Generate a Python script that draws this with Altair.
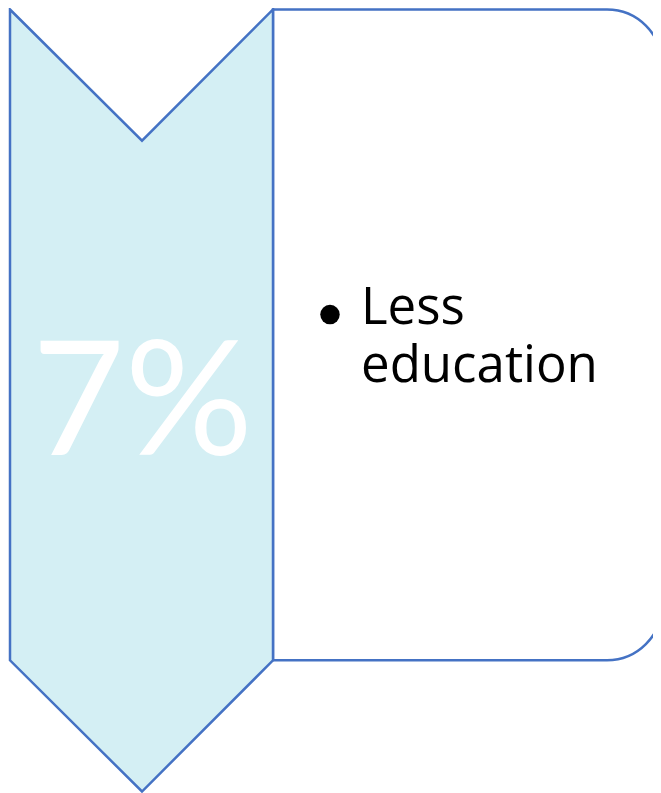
import altair as alt
import pandas as pd

# ---- diagram geometry (in reference-image pixel units) ----
chevron_x = [10, 142, 273]
chevron_top = [5, 137, 5]
chevron_bottom = [660, 792, 660]

box_left = [273]
box_right = [662]
box_top = [5]
box_bottom = [660]

# ---- text content ----
value_label = ["7%"]
bullet_text_lines = ["Less\neducation"]
bullet_text_pos = [(361, 322)]
bullet_dot = [(330, 312)]
value_pos = [(142.5, 453)]

STROKE = "#4472C4"
FILL = "#D4EFF4"

H = 785
xs = alt.Scale(domain=[8, 653], nice=False, zero=False)
ys = alt.Scale(domain=[3.5, 793.5], nice=False, zero=False, reverse=True)

chev_df = pd.DataFrame({"x": chevron_x, "top": chevron_top, "bottom": chevron_bottom})
box_df = pd.DataFrame({"x": box_left, "x2": box_right, "y": box_top, "y2": box_bottom})
val_df = pd.DataFrame({"label": value_label, "x": [p[0] for p in value_pos], "y": [p[1] for p in value_pos]})
txt_df = pd.DataFrame({"label": bullet_text_lines,
                       "x": [p[0] for p in bullet_text_pos], "y": [p[1] for p in bullet_text_pos]})
dot_df = pd.DataFrame({"x": [p[0] for p in bullet_dot], "y": [p[1] for p in bullet_dot]})

box = alt.Chart(box_df).mark_rect(
    fill="white", stroke=STROKE, strokeWidth=2.5,
    cornerRadiusTopRight=55, cornerRadiusBottomRight=55, clip=True
).encode(
    x=alt.X("x:Q", scale=xs, axis=None),
    x2="x2:Q",
    y=alt.Y("y:Q", scale=ys, axis=None),
    y2="y2:Q",
)

chevron = alt.Chart(chev_df).mark_area(
    fill=FILL, stroke=STROKE, strokeWidth=2.5, strokeJoin="miter",
    interpolate="linear", opacity=1, fillOpacity=1
).encode(
    x=alt.X("x:Q", scale=xs, axis=None),
    y=alt.Y("top:Q", scale=ys, axis=None),
    y2="bottom:Q",
)

value_text = alt.Chart(val_df).mark_text(
    font="Lato", fontWeight=400, fontSize=160, color="white",
    align="center", baseline="alphabetic"
).encode(
    x=alt.X("x:Q", scale=xs, axis=None),
    y=alt.Y("y:Q", scale=ys, axis=None),
    text="label:N",
)

bullet_text = alt.Chart(txt_df).mark_text(
    font="Open Sans", fontSize=51, color="black",
    align="left", baseline="alphabetic", lineBreak="\n", lineHeight=58
).encode(
    x=alt.X("x:Q", scale=xs, axis=None),
    y=alt.Y("y:Q", scale=ys, axis=None),
    text="label:N",
)

dot = alt.Chart(dot_df).mark_point(
    shape="circle", filled=True, color="black", size=380, opacity=1
).encode(
    x=alt.X("x:Q", scale=xs, axis=None),
    y=alt.Y("y:Q", scale=ys, axis=None),
)

chart = alt.layer(box, chevron, value_text, bullet_text, dot).properties(
    width=645, height=H, padding=0, background="white",
    autosize=alt.AutoSizeParams(type="none")
).configure_view(stroke=None)

chart.save("out.html", embed_options={"renderer": "svg", "actions": False})
